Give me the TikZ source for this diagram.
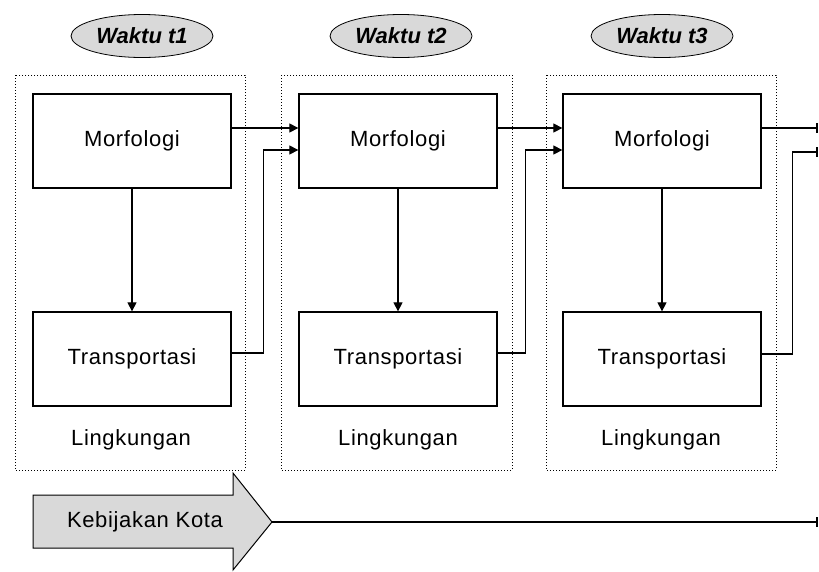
\documentclass[tikz,border=0pt]{standalone}
\usepackage{fontspec}
\setmainfont{Liberation Sans}
\newfontfamily\spacedfont[LetterSpace=3]{Liberation Sans}
\usetikzlibrary{shapes.geometric,positioning,calc,arrows.meta}
\tikzset{ARROW/.style={line width=1.2pt, -{Triangle[length=9pt,width=9pt]}}}
\tikzset{ENDLINE/.style={line width=1.2pt, -{Bar[width=10pt,line width=2pt]}}}
\tikzset{LABEL/.style={font=\spacedfont\fontsize{22}{26}\selectfont}}
\tikzset{BLOCK/.style={rectangle, draw, line width=1.3pt, minimum width=198pt, minimum height=94pt, inner sep=0pt, LABEL}}
\tikzset{ENV/.style={draw, dotted, line width=1pt}}
\tikzset{TIME/.style={ellipse, draw, line width=0.8pt, fill=black!15, minimum width=142pt, minimum height=43pt, inner sep=0pt, font=\fontsize{22}{26}\selectfont\bfseries\itshape}}

\begin{document}
\begin{tikzpicture}[x=1pt, y=-1pt]
    \useasboundingbox (0,0) rectangle (819,571);

    % time labels
    \node[TIME] (n_t1) at (142,36) {Waktu t1};
    \node[TIME] (n_t2) at (401,36) {Waktu t2};
    \node[TIME] (n_t3) at (662,36) {Waktu t3};

    % environment frames
    \draw[ENV] (15,75) rectangle (245,470);
    \draw[ENV] (281,75) rectangle (512,470);
    \draw[ENV] (546,75) rectangle (776,470);
    \node[LABEL] (n_env1) at (131,440) {Lingkungan};
    \node[LABEL] (n_env2) at (398,440) {Lingkungan};
    \node[LABEL] (n_env3) at (661,440) {Lingkungan};

    % blocks
    \node[BLOCK] (n_morf1) at (132,141) {Morfologi};
    \node[BLOCK] (n_trans1) at (132,359) {Transportasi};
    \node[BLOCK] (n_morf2) at (398,141) {Morfologi};
    \node[BLOCK] (n_trans2) at (398,359) {Transportasi};
    \node[BLOCK] (n_morf3) at (662,141) {Morfologi};
    \node[BLOCK] (n_trans3) at (662,359) {Transportasi};

    \draw[ARROW] (n_morf1) -- (n_trans1);
    \draw[ARROW] (n_morf2) -- (n_trans2);
    \draw[ARROW] (n_morf3) -- (n_trans3);

    % links between periods
    \draw[ARROW] ([yshift=13pt]n_morf1.east) -- ([yshift=13pt]n_morf2.west);
    \draw[ARROW] ([yshift=6pt]n_trans1.east) -- ++(32,0) |- ([yshift=-9pt]n_morf2.west);
    \draw[ARROW] ([yshift=13pt]n_morf2.east) -- ([yshift=13pt]n_morf3.west);
    \draw[ARROW] ([yshift=6pt]n_trans2.east) -- ++(28,0) |- ([yshift=-9pt]n_morf3.west);

    \coordinate (out1) at (818,128);
    \coordinate (out2) at (818,152);
    \draw[ENDLINE] ([yshift=13pt]n_morf3.east) -- (out1);
    \draw[ENDLINE] ([yshift=5pt]n_trans3.east) -- ++(31,0) |- (out2);

    % city policy
    \draw[line width=1pt, fill=black!15] (33,495) -- (233,495) -- (233,473) -- (272,522)
        -- (233,570) -- (233,548) -- (33,548) -- cycle;
    \node[LABEL] (n_policy) at (145,522) {Kebijakan Kota};
    \coordinate (policy_tip) at (272,522);
    \coordinate (policy_end) at (818,522);
    \draw[ENDLINE] (policy_tip) -- (policy_end);

\end{tikzpicture}
\end{document}
